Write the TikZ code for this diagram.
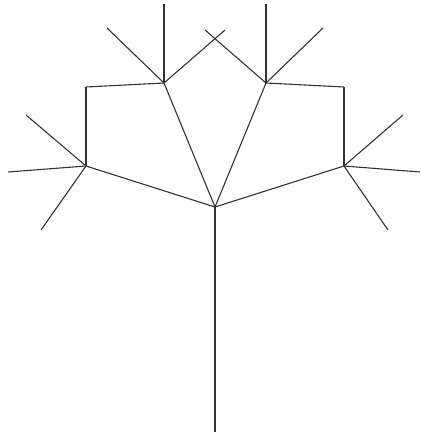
\documentclass[tikz,border=0pt]{standalone}
\usepackage{tikz}

\begin{document}
\begin{tikzpicture}[x=1pt,y=-1pt,branch/.style={line width=1.1pt,black!80}]
    \useasboundingbox (0,0) rectangle (420,436);

    % Forks
    \coordinate (base) at (215,432);
    \coordinate (root) at (215,207);
    \coordinate (left) at (86,166);
    \coordinate (right) at (344,166);
    \coordinate (upleft) at (164,83);
    \coordinate (upright) at (266,83);
    \coordinate (cornerL) at (86,87);
    \coordinate (cornerR) at (344,87);

    % Tips
    \coordinate (leftA) at (26,115);
    \coordinate (leftB) at (8,172);
    \coordinate (leftC) at (41,230);
    \coordinate (rightA) at (403,115);
    \coordinate (rightB) at (420,172);
    \coordinate (rightC) at (388,230);
    \coordinate (upleftA) at (107,28);
    \coordinate (upleftB) at (164,4);
    \coordinate (upleftC) at (225,30);
    \coordinate (uprightA) at (205,30);
    \coordinate (uprightB) at (266,4);
    \coordinate (uprightC) at (323,28);

    % Trunk and main branches
    \draw[branch] (base) -- (root);
    \draw[branch] (root) -- (left);
    \draw[branch] (root) -- (right);
    \draw[branch] (root) -- (upleft);
    \draw[branch] (root) -- (upright);

    % Box edges
    \draw[branch] (left) -- (cornerL);
    \draw[branch] (upleft) -- (cornerL);
    \draw[branch] (right) -- (cornerR);
    \draw[branch] (upright) -- (cornerR);

    % Twigs
    \foreach \n in {left,right,upleft,upright} {
        \foreach \t in {A,B,C} {
            \draw[branch] (\n) -- (\n\t);
        }
    }
\end{tikzpicture}
\end{document}
